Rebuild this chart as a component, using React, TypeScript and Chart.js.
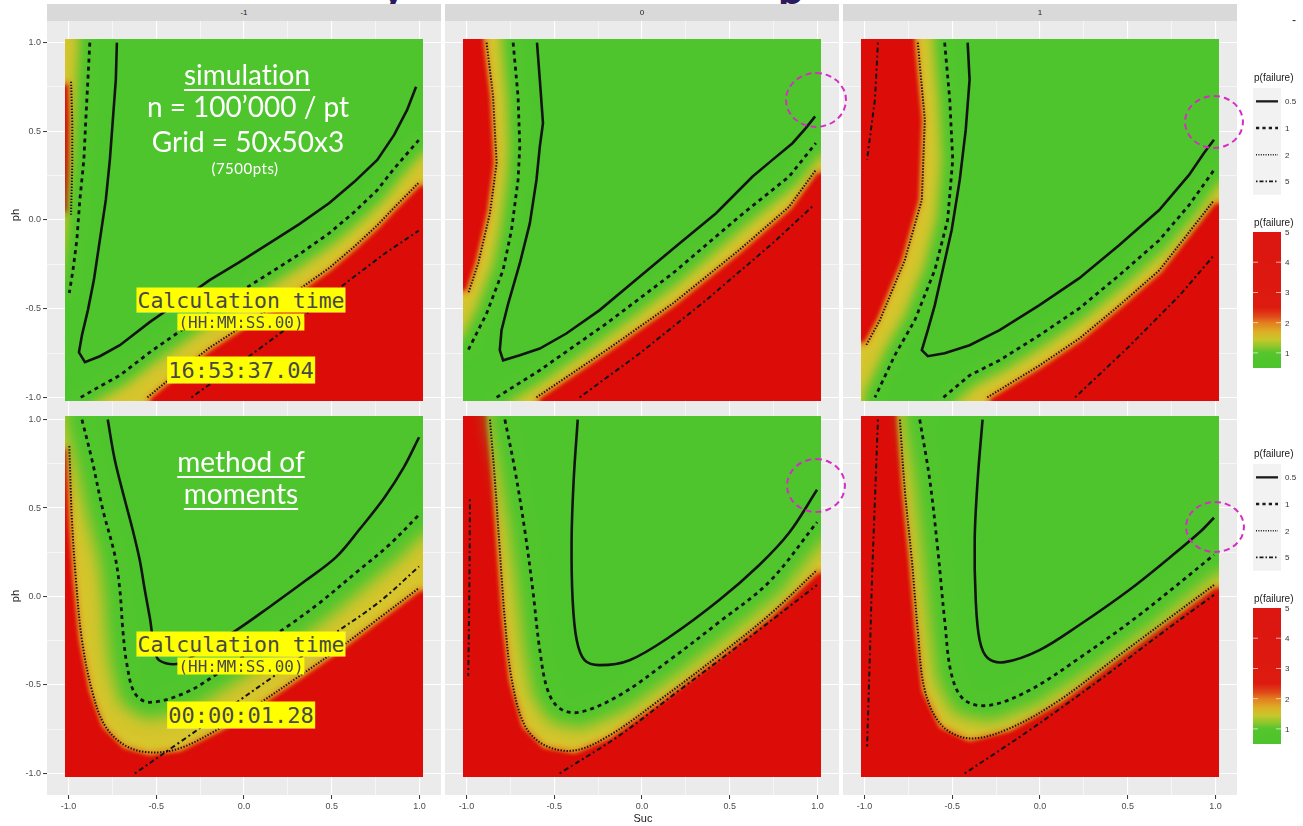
import React, { useEffect, useRef } from 'react';
import { Chart, registerables } from 'chart.js';
Chart.register(...registerables);

type P = [number, number];

// ---------- axis / label data ----------
const AXIS_TICKS = [-1, -0.75, -0.5, -0.25, 0, 0.25, 0.5, 0.75, 1];
const MAJOR_TICKS = [-1, -0.5, 0, 0.5, 1];
const FACETS = ['-1', '0', '1'];
const LEVEL_LABELS = ['0.5', '1', '2', '5'];
const COLORBAR_TICKS = [5, 4, 3, 2, 1];
const COLORBAR_RANGE = [0.5, 5];
const TILE = [-1.02, 1.02];
const AXIS_RANGE = [-1.122, 1.122];

// ---------- simulation (top row) contour data ----------
const SIM_A_SOLID: P[] = [[-0.724,1.0],[-0.730,0.791],[-0.747,0.565],[-0.764,0.339],[-0.787,0.113],[-0.821,-0.113],[-0.855,-0.339],[-0.889,-0.508],[-0.923,-0.650],[-0.940,-0.746],[-0.906,-0.802],[-0.821,-0.768],[-0.707,-0.706],[-0.537,-0.576],[-0.366,-0.458],[-0.196,-0.339],[-0.026,-0.237],[0.145,-0.130],[0.315,-0.023],[0.486,0.096],[0.628,0.215],[0.759,0.339],[0.855,0.480],[0.929,0.621],[0.980,0.751]];
const SIM_A_DASH_L: P[] = [[-0.878,1.0],[-0.889,0.791],[-0.901,0.565],[-0.912,0.339],[-0.935,0.113],[-0.952,-0.113],[-0.974,-0.282],[-0.995,-0.412]];
const SIM_A_DASH_R: P[] = [[-0.93,-1.0],[-0.821,-0.938],[-0.707,-0.876],[-0.537,-0.746],[-0.366,-0.628],[-0.196,-0.509],[-0.026,-0.407],[0.145,-0.300],[0.315,-0.193],[0.486,-0.074],[0.628,0.045],[0.759,0.169],[0.855,0.290],[0.995,0.45]];
const SIM_A_DOT_L: P[] = [[-0.985,0.78],[-0.978,0.55],[-0.978,0.30],[-0.985,0.03]];
const SIM_A_DOT_R: P[] = [[-0.55,-1.0],[-0.366,-0.85],[-0.196,-0.72],[-0.026,-0.61],[0.145,-0.50],[0.315,-0.39],[0.486,-0.27],[0.628,-0.15],[0.759,-0.03],[0.855,0.07],[0.995,0.21]];
const SIM_A_DOTDASH: P[] = [[-0.30,-1.0],[0.0,-0.79],[0.3,-0.57],[0.6,-0.34],[0.8,-0.19],[0.995,-0.06]];

const SIM_B_SOLID: P[] = [[-0.598,1.0],[-0.582,0.791],[-0.564,0.546],[-0.582,0.414],[-0.601,0.226],[-0.639,-0.019],[-0.696,-0.245],[-0.762,-0.471],[-0.800,-0.621],[-0.810,-0.734],[-0.791,-0.791],[-0.696,-0.763],[-0.582,-0.725],[-0.431,-0.640],[-0.241,-0.508],[-0.014,-0.320],[0.213,-0.132],[0.422,0.038],[0.630,0.245],[0.743,0.339],[0.857,0.433],[0.933,0.518],[0.986,0.584]];
const SIM_B_DASH_L: P[] = [[-0.734,1.0],[-0.706,0.697],[-0.696,0.414],[-0.706,0.226],[-0.743,-0.056],[-0.791,-0.282],[-0.885,-0.527],[-0.990,-0.734]];
const SIM_B_DASH_R: P[] = [[-0.828,-1.0],[-0.582,-0.847],[-0.203,-0.584],[0.175,-0.301],[0.554,0.019],[0.838,0.245],[0.990,0.433]];
const SIM_B_DOT_L: P[] = [[-0.885,1.0],[-0.848,0.697],[-0.828,0.320],[-0.866,0.038],[-0.933,-0.245],[-0.990,-0.414]];
const SIM_B_DOT_R: P[] = [[-0.601,-1.0],[-0.203,-0.734],[0.175,-0.471],[0.554,-0.169],[0.838,0.075],[0.990,0.282]];
const SIM_B_DOTDASH: P[] = [[-0.355,-1.0],[-0.014,-0.753],[0.365,-0.452],[0.743,-0.132],[0.980,0.085]];

const SIM_C_SOLID: P[] = [[-0.412,1.0],[-0.401,0.791],[-0.423,0.508],[-0.457,0.226],[-0.503,-0.056],[-0.554,-0.282],[-0.599,-0.480],[-0.639,-0.621],[-0.673,-0.734],[-0.639,-0.768],[-0.543,-0.751],[-0.401,-0.706],[-0.230,-0.621],[-0.003,-0.480],[0.224,-0.328],[0.452,-0.141],[0.679,0.056],[0.849,0.254],[0.935,0.379],[0.991,0.452]];
const SIM_C_DASH_L: P[] = [[-0.543,1.0],[-0.514,0.678],[-0.497,0.339],[-0.526,0.0],[-0.599,-0.282],[-0.713,-0.565],[-0.827,-0.763],[-0.94,-1.0]];
const SIM_C_DASH_R: P[] = [[-0.55,-1.0],[-0.401,-0.876],[-0.230,-0.791],[-0.003,-0.65],[0.224,-0.498],[0.452,-0.311],[0.679,-0.114],[0.849,0.084],[0.99,0.28]];
const SIM_C_DOT_L: P[] = [[-0.696,1.0],[-0.656,0.565],[-0.673,0.113],[-0.77,-0.226],[-0.912,-0.565],[-0.99,-0.706]];
const SIM_C_DOT_R: P[] = [[-0.3,-1.0],[-0.003,-0.82],[0.224,-0.668],[0.452,-0.481],[0.679,-0.284],[0.99,0.11]];
const SIM_C_DOTDASH_L: P[] = [[-0.923,1.0],[-0.94,0.68],[-0.985,0.34]];
const SIM_C_DOTDASH_R: P[] = [[0.2,-1.0],[0.5,-0.72],[0.8,-0.42],[0.99,-0.2]];

// ---------- method of moments (bottom row) contour data ----------
const MOM_A_SOLID: P[] = [[-0.776,1.0],[-0.736,0.773],[-0.679,0.547],[-0.634,0.377],[-0.594,0.207],[-0.565,0.037],[-0.537,-0.116],[-0.497,-0.343],[-0.446,-0.377],[-0.366,-0.377],[-0.236,-0.303],[-0.043,-0.190],[0.145,-0.059],[0.355,0.093],[0.526,0.224],[0.656,0.377],[0.80,0.56],[0.91,0.73],[0.997,0.9]];
const MOM_A_DASH: P[] = [[-0.923,1.0],[-0.866,0.773],[-0.804,0.490],[-0.736,0.235],[-0.707,0.037],[-0.690,-0.190],[-0.668,-0.377],[-0.622,-0.547],[-0.537,-0.598],[-0.327,-0.541],[-0.139,-0.428],[0.048,-0.303],[0.259,-0.161],[0.429,-0.037],[0.656,0.150],[0.827,0.292],[0.997,0.462]];
const MOM_A_DOT: P[] = [[-0.995,0.85],[-0.98,0.433],[-0.957,0.093],[-0.923,-0.246],[-0.866,-0.530],[-0.793,-0.728],[-0.679,-0.841],[-0.537,-0.881],[-0.366,-0.858],[-0.139,-0.745],[0.088,-0.603],[0.315,-0.450],[0.543,-0.292],[0.770,-0.122],[0.997,0.048]];
const MOM_A_DOTDASH: P[] = [[-0.622,-1.0],[-0.366,-0.824],[-0.082,-0.626],[0.202,-0.428],[0.486,-0.229],[0.770,-0.031],[0.997,0.17]];

const MOM_B_SOLID: P[] = [[-0.366,1.0],[-0.389,0.660],[-0.401,0.320],[-0.395,-0.020],[-0.372,-0.246],[-0.327,-0.360],[-0.241,-0.388],[-0.071,-0.360],[0.156,-0.229],[0.440,-0.020],[0.668,0.178],[0.838,0.360],[0.997,0.603]];
const MOM_B_DASH: P[] = [[-0.781,1.0],[-0.724,0.717],[-0.668,0.377],[-0.622,0.037],[-0.582,-0.303],[-0.537,-0.530],[-0.469,-0.632],[-0.355,-0.654],[-0.128,-0.558],[0.156,-0.360],[0.440,-0.144],[0.724,0.082],[0.997,0.42]];
const MOM_B_DOT: P[] = [[-0.866,1.0],[-0.838,0.660],[-0.810,0.263],[-0.781,-0.133],[-0.741,-0.473],[-0.668,-0.728],[-0.554,-0.841],[-0.384,-0.870],[-0.185,-0.785],[0.099,-0.586],[0.440,-0.331],[0.724,-0.105],[0.997,0.150]];
const MOM_B_DOTDASH_L: P[] = [[-0.98,0.55],[-0.982,0.2],[-0.986,-0.2],[-0.99,-0.45]];
const MOM_B_DOTDASH_R: P[] = [[-0.469,-1.0],[-0.128,-0.785],[0.213,-0.530],[0.554,-0.275],[0.997,0.065]];

const MOM_C_SOLID: P[] = [[-0.327,1.0],[-0.355,0.660],[-0.372,0.320],[-0.366,-0.020],[-0.344,-0.246],[-0.298,-0.348],[-0.202,-0.371],[-0.003,-0.303],[0.224,-0.161],[0.508,0.037],[0.736,0.218],[0.906,0.360],[0.991,0.445]];
const MOM_C_DASH: P[] = [[-0.685,1.0],[-0.628,0.660],[-0.582,0.263],[-0.543,-0.133],[-0.503,-0.445],[-0.429,-0.586],[-0.287,-0.615],[-0.060,-0.530],[0.224,-0.348],[0.565,-0.105],[0.991,0.235]];
const MOM_C_DOT: P[] = [[-0.798,1.0],[-0.770,0.603],[-0.730,0.207],[-0.696,-0.190],[-0.656,-0.530],[-0.560,-0.728],[-0.401,-0.802],[-0.173,-0.745],[0.111,-0.586],[0.452,-0.331],[0.991,0.065]];
const MOM_C_DOTDASH_L: P[] = [[-0.923,1.0],[-0.94,0.55],[-0.957,0.09],[-0.97,-0.37],[-0.985,-0.85]];
const MOM_C_DOTDASH_R: P[] = [[-0.429,-1.0],[-0.060,-0.756],[0.338,-0.473],[0.679,-0.218],[0.991,0.009]];

// ---------- styles ----------
const RED = '#DC0D09';
const ORANGE = '#E5801C';
const YELLOW = '#D6C52C';
const GREEN = '#4EC52D';
const PANEL_BG = '#EBEBEB';
const LINE_COLOR = '#141414';
const LINE_STYLES: Record<string, { w: number; dash: number[] }> = {
  solid: { w: 2.6, dash: [] },
  dashed: { w: 2.8, dash: [4, 4] },
  dotted: { w: 2, dash: [1.4, 1.6] },
  dotdash: { w: 2, dash: [2, 3, 5, 3] },
};

type Part = P[] | 'TL' | 'TR' | 'BL' | 'BR';
const CORNERS: Record<string, P> = { TL: [-1.3, 1.3], TR: [1.3, 1.3], BL: [-1.3, -1.3], BR: [1.3, -1.3] };

interface PanelSpec {
  row: number; col: number; smooth: boolean; band: number; bandBlur: number;
  solid: P[][]; dashed: P[][]; dotted: P[][]; dotdash: P[][];
  p2: Part[]; p1: Part[];
}

const PANELS: PanelSpec[] = [
  { row: 0, col: 0, smooth: false, band: 22, bandBlur: 6, solid: [SIM_A_SOLID], dashed: [SIM_A_DASH_L, SIM_A_DASH_R], dotted: [SIM_A_DOT_L, SIM_A_DOT_R], dotdash: [SIM_A_DOTDASH],
    p2: ['TL', SIM_A_DOT_L, 'BL', SIM_A_DOT_R, 'TR'], p1: [SIM_A_DASH_L, 'BL', SIM_A_DASH_R, 'TR'] },
  { row: 0, col: 1, smooth: false, band: 22, bandBlur: 6, solid: [SIM_B_SOLID], dashed: [SIM_B_DASH_L, SIM_B_DASH_R], dotted: [SIM_B_DOT_L, SIM_B_DOT_R], dotdash: [SIM_B_DOTDASH],
    p2: [SIM_B_DOT_L, 'BL', SIM_B_DOT_R, 'TR'], p1: [SIM_B_DASH_L, 'BL', SIM_B_DASH_R, 'TR'] },
  { row: 0, col: 2, smooth: false, band: 22, bandBlur: 6, solid: [SIM_C_SOLID], dashed: [SIM_C_DASH_L, SIM_C_DASH_R], dotted: [SIM_C_DOT_L, SIM_C_DOT_R], dotdash: [SIM_C_DOTDASH_L, SIM_C_DOTDASH_R],
    p2: [SIM_C_DOT_L, 'BL', SIM_C_DOT_R, 'TR'], p1: [SIM_C_DASH_L, SIM_C_DASH_R, 'TR'] },
  { row: 1, col: 0, smooth: true, band: 34, bandBlur: 8, solid: [MOM_A_SOLID], dashed: [MOM_A_DASH], dotted: [MOM_A_DOT], dotdash: [MOM_A_DOTDASH],
    p2: ['TL', MOM_A_DOT, 'TR'], p1: [MOM_A_DASH, 'TR'] },
  { row: 1, col: 1, smooth: true, band: 32, bandBlur: 8, solid: [MOM_B_SOLID], dashed: [MOM_B_DASH], dotted: [MOM_B_DOT], dotdash: [MOM_B_DOTDASH_L, MOM_B_DOTDASH_R],
    p2: [MOM_B_DOT, 'TR'], p1: [MOM_B_DASH, 'TR'] },
  { row: 1, col: 2, smooth: true, band: 32, bandBlur: 8, solid: [MOM_C_SOLID], dashed: [MOM_C_DASH], dotted: [MOM_C_DOT], dotdash: [MOM_C_DOTDASH_L, MOM_C_DOTDASH_R],
    p2: [MOM_C_DOT, 'TR'], p1: [MOM_C_DASH, 'TR'] },
];

// ---------- layout ----------
const COL_GEOM = [{ left: 47, right: 441 }, { left: 445, right: 839 }, { left: 843, right: 1237 }];
const ROW_GEOM = [{ top: 21, bottom: 419 }, { top: 398, bottom: 795 }];
const SPLIT = 405;
const M = 10;
const Y_AXIS_W = 47;
const X_AXIS_H = 22;

function ext(p: P): P {
  const [x, y] = p;
  return Math.abs(x) >= Math.abs(y) ? [Math.sign(x) * 1.3, y] : [x, Math.sign(y) * 1.3];
}
function buildRegion(parts: Part[]): P[] {
  const out: P[] = [];
  parts.forEach((part) => {
    if (typeof part === 'string') out.push(CORNERS[part]);
    else { out.push(ext(part[0])); part.forEach((p) => out.push(p)); out.push(ext(part[part.length - 1])); }
  });
  return out;
}
const toXY = (pts: P[]) => pts.map(([x, y]) => ({ x, y }));
const isMajor = (v: number) => MAJOR_TICKS.some((m) => Math.abs(m - v) < 1e-9);

const regionPlugin = {
  id: 'heatRegions',
  beforeDraw(chart: any) {
    const { ctx, chartArea: a } = chart;
    ctx.save();
    ctx.fillStyle = PANEL_BG;
    ctx.fillRect(a.left, a.top, a.right - a.left, a.bottom - a.top);
    ctx.restore();
  },
  beforeDatasetDraw(chart: any, args: any) {
    const ds = chart.data.datasets[args.index];
    const r = ds._region;
    if (!r) return;
    const { ctx } = chart;
    const xs = chart.scales.x, ys = chart.scales.y;
    const x0 = xs.getPixelForValue(TILE[0]), x1 = xs.getPixelForValue(TILE[1]);
    const y0 = ys.getPixelForValue(TILE[1]), y1 = ys.getPixelForValue(TILE[0]);
    const pts = args.meta.data;
    ctx.save();
    ctx.beginPath();
    ctx.rect(x0, y0, x1 - x0, y1 - y0);
    ctx.clip();
    if (r.blur) ctx.filter = `blur(${r.blur}px)`;
    ctx.beginPath();
    pts.forEach((p: any, i: number) => (i ? ctx.lineTo(p.x, p.y) : ctx.moveTo(p.x, p.y)));
    ctx.closePath();
    ctx.fillStyle = r.color;
    ctx.fill();
    if (r.stroke) {
      ctx.lineWidth = r.stroke;
      ctx.lineJoin = 'round';
      ctx.strokeStyle = r.color;
      ctx.stroke();
    }
    ctx.restore();
    return false;
  },
};

function makeScale(axis: 'x' | 'y', show: boolean) {
  return {
    type: 'linear',
    min: AXIS_RANGE[0],
    max: AXIS_RANGE[1],
    afterBuildTicks: (s: any) => { s.ticks = AXIS_TICKS.map((v) => ({ value: v })); },
    afterFit: (s: any) => {
      if (axis === 'x') s.height = show ? X_AXIS_H : 0;
      else s.width = show ? Y_AXIS_W : 0;
    },
    border: { display: false },
    grid: {
      color: '#FFFFFF',
      lineWidth: (c: any) => (c.tick && isMajor(c.tick.value) ? 1.1 : 0.55),
      drawTicks: show,
      tickLength: 4,
      tickWidth: 1,
      tickColor: (c: any) => (c.tick && isMajor(c.tick.value) ? '#333333' : 'rgba(0,0,0,0)'),
    },
    ticks: {
      display: show,
      autoSkip: false,
      maxRotation: 0,
      padding: 2,
      color: '#4D4D4D',
      font: { family: 'Liberation Sans', size: 9 },
      callback: (v: any) => (isMajor(Number(v)) ? Number(v).toFixed(1) : ''),
    },
  };
}

function panelGeom(spec: PanelSpec) {
  const c = COL_GEOM[spec.col], r = ROW_GEOM[spec.row];
  const yAxis = spec.col === 0 ? Y_AXIS_W : 0;
  const xAxis = spec.row === 1 ? X_AXIS_H : 0;
  return {
    left: c.left - M - yAxis,
    top: r.top - M,
    w: c.right - c.left + 2 * M + yAxis,
    h: r.bottom - r.top + 2 * M + xAxis,
  };
}

function buildConfig(spec: PanelSpec) {
  const layers: any[] = [];
  const tileRect: P[] = [[TILE[0], TILE[0]], [TILE[1], TILE[0]], [TILE[1], TILE[1]], [TILE[0], TILE[1]]];
  layers.push({ data: toXY(tileRect), _region: { color: RED, blur: 0 } });
  layers.push({ data: toXY(buildRegion(spec.p2)), _region: { color: ORANGE, blur: 2, stroke: 5 } });
  layers.push({ data: toXY(buildRegion(spec.p2)), _region: { color: YELLOW, blur: 3 } });
  layers.push({ data: toXY(buildRegion(spec.p1)), _region: { color: GREEN, blur: spec.bandBlur, stroke: spec.band } });
  const lines: any[] = [];
  const addLines = (arrs: P[][], style: string) => arrs.forEach((pts) => lines.push({
    data: toXY(pts), showLine: true, pointRadius: 0, fill: false,
    borderColor: LINE_COLOR, borderWidth: LINE_STYLES[style].w, borderDash: LINE_STYLES[style].dash,
    borderCapStyle: 'butt', tension: spec.smooth ? 0.35 : 0,
  }));
  addLines(spec.dotdash, 'dotdash');
  addLines(spec.dotted, 'dotted');
  addLines(spec.dashed, 'dashed');
  addLines(spec.solid, 'solid');
  const all = [...layers, ...lines].map((d, i, arr) => ({ ...d, order: arr.length - i, pointRadius: 0, pointHoverRadius: 0 }));
  return {
    type: 'scatter',
    data: { datasets: all },
    options: {
      responsive: false,
      animation: false,
      events: [],
      layout: { padding: { left: M, right: M, top: M, bottom: M } },
      plugins: { legend: { display: false }, tooltip: { enabled: false } },
      scales: { x: makeScale('x', spec.row === 1), y: makeScale('y', spec.col === 0) },
    },
    plugins: [regionPlugin],
  } as any;
}

function Panel({ spec, offsetTop }: { spec: PanelSpec; offsetTop: number }) {
  const ref = useRef<HTMLCanvasElement>(null);
  const g = panelGeom(spec);
  useEffect(() => {
    const chart = new Chart(ref.current as HTMLCanvasElement, buildConfig(spec));
    return () => chart.destroy();
  }, []);
  return (
    <canvas ref={ref} width={g.w} height={g.h}
      style={{ position: 'absolute', left: g.left, top: g.top - offsetTop, width: g.w, height: g.h }} />
  );
}

function Legend({ base }: { base: number }) {
  const keyTop = base + 11;
  const keyH = 26.7;
  const barTop = base + 155;
  const barBot = base + 291;
  const vy = (v: number) => barTop + ((COLORBAR_RANGE[1] - v) / (COLORBAR_RANGE[1] - COLORBAR_RANGE[0])) * (barBot - barTop);
  const styles = ['solid', 'dashed', 'dotted', 'dotdash'];
  const dashes: Record<string, string> = { solid: '', dashed: '3.2,3.2', dotted: '1,1.4', dotdash: '1.5,2,4,2' };
  const widths: Record<string, number> = { solid: 2.3, dashed: 2.6, dotted: 1.3, dotdash: 1.8 };
  const gid = `cbar${base}`;
  return (
    <svg style={{ position: 'absolute', left: 1245, top: 0, overflow: 'visible' }} width={58} height={826}>
      <defs>
        <linearGradient id={gid} x1="0" y1="0" x2="0" y2="1">
          <stop offset="0" stopColor="#DC1510" />
          <stop offset="0.556" stopColor="#DD1B10" />
          <stop offset="0.622" stopColor="#E04A1A" />
          <stop offset="0.667" stopColor="#E37E1F" />
          <stop offset="0.733" stopColor="#DDAF25" />
          <stop offset="0.789" stopColor="#C8C72B" />
          <stop offset="0.844" stopColor="#8CC72C" />
          <stop offset="0.889" stopColor="#55C52D" />
          <stop offset="1" stopColor="#4CC42C" />
        </linearGradient>
      </defs>
      <text x={9} y={base + 3.5} fontFamily="Liberation Sans" fontSize={10} fill="#1A1A1A">p(failure)</text>
      <rect x={8} y={keyTop} width={28} height={keyH * 4} fill="#F2F2F2" />
      {styles.map((s, i) => {
        const y = keyTop + keyH * (i + 0.5);
        return (
          <g key={s}>
            <line x1={11} x2={33} y1={y} y2={y} stroke="#1A1A1A" strokeWidth={widths[s]} strokeDasharray={dashes[s]} />
            <text x={40} y={y + 3} fontFamily="Liberation Sans" fontSize={8} fill="#333">{LEVEL_LABELS[i]}</text>
          </g>
        );
      })}
      <text x={9} y={base + 149} fontFamily="Liberation Sans" fontSize={10} fill="#1A1A1A">p(failure)</text>
      <rect x={8} y={barTop} width={28} height={barBot - barTop} fill={`url(#${gid})`} />
      {COLORBAR_TICKS.map((v) => (
        <g key={v}>
          {v < 5 && <line x1={8} x2={13} y1={vy(v)} y2={vy(v)} stroke="#FFFFFF" strokeWidth={0.8} opacity={0.8} />}
          {v < 5 && <line x1={31} x2={36} y1={vy(v)} y2={vy(v)} stroke="#FFFFFF" strokeWidth={0.8} opacity={0.8} />}
          <text x={40} y={vy(v) + 3} fontFamily="Liberation Sans" fontSize={8} fill="#333">{String(v)}</text>
        </g>
      ))}
    </svg>
  );
}

const whiteText = (size: number): React.CSSProperties => ({
  position: 'absolute', transform: 'translate(-50%,-50%)', color: '#FFFFFF', fontFamily: 'Lato, "Open Sans", sans-serif',
  fontSize: size, whiteSpace: 'nowrap', lineHeight: 1, fontVariantLigatures: 'none',
});
const monoBox = (size: number, lh: number): React.CSSProperties => ({
  position: 'absolute', transform: 'translate(-50%,-50%)', background: '#FFFF00', color: '#484848',
  fontFamily: '"DejaVu Sans Mono", monospace', fontSize: size, lineHeight: `${lh}px`, whiteSpace: 'nowrap', padding: '0 1px',
});
const circle = (cx: number, cy: number, w: number, h: number): React.CSSProperties => ({
  position: 'absolute', left: cx - w / 2, top: cy - h / 2, width: w, height: h, borderRadius: '50%',
  border: '2.5px dashed #D62CC4', boxSizing: 'border-box',
});
const underline: React.CSSProperties = { textDecoration: 'underline', textDecorationThickness: 2, textUnderlineOffset: 4 };

export default function App() {
  return (
    <div style={{ position: 'absolute', left: 0, top: 0, width: 1303, height: 826, background: '#FFFFFF', overflow: 'hidden', fontFamily: 'Liberation Sans, Arial, sans-serif' }}>
      {/* cut-off slide title fragments */}
      <div style={{ position: 'absolute', left: 381, top: -36, fontSize: 46, fontWeight: 700, color: '#2B1B5C', fontFamily: 'Lato, sans-serif', lineHeight: '46px' }}>y</div>
      <div style={{ position: 'absolute', left: 778, top: -36, fontSize: 46, fontWeight: 700, color: '#2B1B5C', fontFamily: 'Lato, sans-serif', lineHeight: '46px' }}>p</div>
      <div style={{ position: 'absolute', left: 1292, top: 13, fontSize: 12, color: '#333' }}>-</div>

      <div style={{ position: 'absolute', left: 0, top: 0, width: 1303, height: SPLIT, overflow: 'hidden' }}>
        {PANELS.filter((p) => p.row === 0).map((p) => <Panel key={p.col} spec={p} offsetTop={0} />)}
        {COL_GEOM.map((c, i) => (
          <div key={i} style={{ position: 'absolute', left: c.left, top: 4, width: c.right - c.left, height: 17, background: '#D9D9D9', color: '#1A1A1A', fontSize: 8, lineHeight: '17px', textAlign: 'center' }}>{FACETS[i]}</div>
        ))}
      </div>
      <div style={{ position: 'absolute', left: 0, top: SPLIT, width: 1303, height: 826 - SPLIT, overflow: 'hidden' }}>
        {PANELS.filter((p) => p.row === 1).map((p) => <Panel key={p.col} spec={p} offsetTop={SPLIT} />)}
      </div>

      {/* axis titles */}
      <div style={{ position: 'absolute', left: 15, top: 215, transform: 'translate(-50%,-50%) rotate(-90deg)', fontSize: 11, color: '#1A1A1A' }}>ph</div>
      <div style={{ position: 'absolute', left: 15, top: 596, transform: 'translate(-50%,-50%) rotate(-90deg)', fontSize: 11, color: '#1A1A1A' }}>ph</div>
      <div style={{ position: 'absolute', left: 643, top: 818, transform: 'translate(-50%,-50%)', fontSize: 11, color: '#1A1A1A' }}>Suc</div>

      <Legend base={77} />
      <Legend base={453} />

      {/* annotations: simulation */}
      <div style={{ ...whiteText(28), ...underline, left: 247, top: 74 }}>simulation</div>
      <div style={{ ...whiteText(28), left: 248, top: 106 }}>n = 100’000 / pt</div>
      <div style={{ ...whiteText(28), left: 248, top: 141 }}>Grid = 50x50x3</div>
      <div style={{ ...whiteText(15), left: 245, top: 168, letterSpacing: 0.5 }}>(7500pts)</div>
      <div style={{ ...monoBox(21.5, 25), left: 241, top: 300 }}>Calculation time</div>
      <div style={{ ...monoBox(16, 17), left: 241, top: 322 }}>(HH:MM:SS.00)</div>
      <div style={{ ...monoBox(22, 27), left: 241, top: 370 }}>16:53:37.04</div>

      {/* annotations: method of moments */}
      <div style={{ ...whiteText(28), ...underline, left: 241, top: 461 }}>method of</div>
      <div style={{ ...whiteText(28), ...underline, left: 241, top: 493 }}>moments</div>
      <div style={{ ...monoBox(21.5, 25), left: 241, top: 644 }}>Calculation time</div>
      <div style={{ ...monoBox(16, 17), left: 241, top: 666 }}>(HH:MM:SS.00)</div>
      <div style={{ ...monoBox(22, 27), left: 241, top: 715 }}>00:00:01.28</div>

      {/* highlight circles */}
      <div style={circle(816, 100, 62, 56)} />
      <div style={circle(1214, 122, 60, 54)} />
      <div style={circle(816, 485, 60, 55)} />
      <div style={circle(1215, 527, 60, 52)} />
    </div>
  );
}
